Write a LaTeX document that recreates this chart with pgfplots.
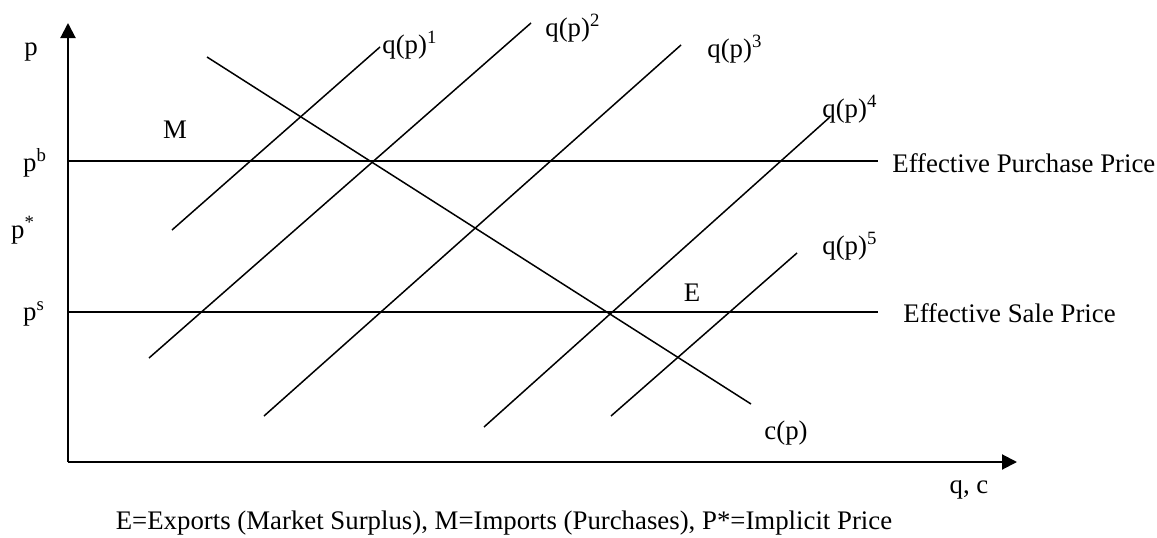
\documentclass[border=0pt]{standalone}
\usepackage{pgfplots}
\pgfplotsset{compat=1.18}
\usetikzlibrary{arrows.meta}
\usepackage{fontspec}
\setmainfont{Liberation Serif}
\tikzset{lbl/.style={font=\fontsize{13.4}{16}\selectfont, inner sep=0pt}}
\begin{document}
\begin{tikzpicture}
\begin{axis}[
  scale only axis,
  width=474.5pt, height=219.5pt,
  xmin=0, xmax=949, ymin=0, ymax=439,
  axis lines*=left,
  axis line style={line width=1pt, -{Triangle[length=7.5pt,width=7.5pt]}},
  xtick=\empty, ytick=\empty,
  clip=false,
]
% price lines
\addplot[black, line width=0.75pt] coordinates {(0,301) (810,301)};
\addplot[black, line width=0.75pt] coordinates {(0,150) (810,150)};
% consumption c(p)
\addplot[black, line width=0.75pt] coordinates {(139,405) (683,58)};
% supply curves
\addplot[black, line width=0.75pt] coordinates {(104,232) (312,415)};
\addplot[black, line width=0.75pt] coordinates {(81,104) (463,439)};
\addplot[black, line width=0.75pt] coordinates {(196,46) (613,417)};
\addplot[black, line width=0.75pt] coordinates {(416,35) (762,345)};
\addplot[black, line width=0.75pt] coordinates {(543,46) (729,209)};
% labels
\node[lbl] at (axis cs:-37,410) {p};
\node[lbl] at (axis cs:-33,299) {p\textsuperscript{b}};
\node[lbl] at (axis cs:-45,232) {p\textsuperscript{*}};
\node[lbl] at (axis cs:-34,148) {p\textsuperscript{s}};
\node[lbl] at (axis cs:107,332) {M};
\node[lbl] at (axis cs:624,169) {E};
\node[lbl] at (axis cs:718,29) {c(p)};
\node[lbl,anchor=west] at (axis cs:314,417) {q(p)\textsuperscript{1}};
\node[lbl,anchor=west] at (axis cs:477,434) {q(p)\textsuperscript{2}};
\node[lbl,anchor=west] at (axis cs:639,413) {q(p)\textsuperscript{3}};
\node[lbl,anchor=west] at (axis cs:754,353) {q(p)\textsuperscript{4}};
\node[lbl,anchor=west] at (axis cs:754,216) {q(p)\textsuperscript{5}};
\node[lbl,anchor=west] at (axis cs:824,299) {Effective Purchase Price};
\node[lbl,anchor=west] at (axis cs:835,149) {Effective Sale Price};
\node[lbl] at (axis cs:901,-28) {q, c};
\node[lbl] at (axis cs:436,-61) {E=Exports (Market Surplus), M=Imports (Purchases), P*=Implicit Price};
\path (axis cs:-68,-75) rectangle (axis cs:1089,462);
\end{axis}
\end{tikzpicture}
\end{document}
